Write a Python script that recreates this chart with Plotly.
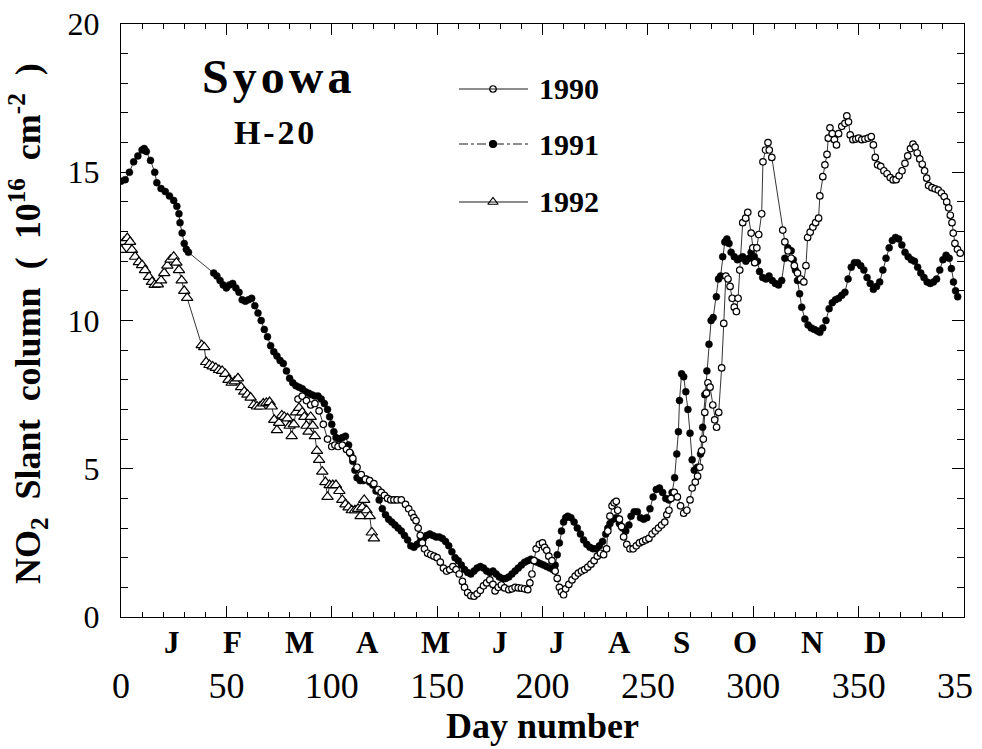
import plotly.graph_objects as go

# ---------------- data ----------------
days_1991 = [0, 2, 4, 6, 8, 10, 11, 12, 14, 16, 17, 19, 21, 23, 25, 26.5, 27.5, 28, 29, 30, 31, 32,
             44, 45.5, 47, 48.5, 50, 51.5, 53, 54.5, 56, 57.5, 59, 60.5, 62, 63.5, 65, 66.5, 68, 69.5,
             71, 72.5, 74, 75.5, 77, 78.5, 80, 81.5, 83, 84.5, 86, 87.5, 89, 90.5, 92, 93.5, 95, 96.5,
             98, 99, 100, 101, 102, 103.5, 105, 106.5, 108, 109, 110, 111, 112, 113.5, 115, 116.5, 118,
             119.5, 121, 122.5, 124, 125.5, 127, 128.5, 130, 131.5, 133, 134.5, 136, 137.5, 139, 140.5,
             142, 143.5, 145, 146.5, 148, 149.5, 151, 152.5, 154, 155.5, 157, 158.5, 160, 161.5, 163,
             164.5, 166, 167.5, 169, 170.5, 172, 173.5, 175, 176.5, 178, 179.5, 181, 182.5, 184, 185.5,
             187, 188.5, 190, 191.5, 193, 194.5, 196, 197.5, 199, 200.5, 202, 203.5, 205, 206, 207, 208,
             209, 210, 211, 212, 213.5, 215, 216.5, 218, 219.5, 221, 222.5, 224, 225.5, 227, 228.5, 230,
             231, 232, 233.5, 235, 236.5, 238, 239.5, 241, 242, 243.5, 245, 246.5, 248, 249.5, 251,
             252.5, 254, 255.5, 257, 258.5, 260, 261.5, 262.7, 263.7, 264.5, 265, 266, 267, 268, 269,
             270, 271, 272, 273.5, 275, 276, 277, 278, 279, 280, 281, 282.5, 283.5, 284.5, 285.5, 286.5,
             287.5, 288.5, 289.5, 291, 292.5, 294, 295, 296.5, 298, 299, 300.5, 302, 303, 304.5, 306,
             307.5, 309, 310.5, 312, 313.5, 315, 316.4, 318, 319, 320, 321, 322, 323, 324.5, 326, 327.5,
             329, 330.5, 331.6, 333, 334.5, 336, 337.5, 339, 340.5, 342, 343.5, 345, 346.5, 348, 349.5,
             351, 352.5, 354, 355.5, 357, 358.5, 360, 361.5, 363, 364.5, 366, 367.5, 369, 370.5, 372,
             373.5, 375, 376.5, 378, 379.5, 381, 382.5, 384, 385.5, 387, 388.5, 390, 391.5, 393, 394,
             395, 396, 397]
vals_1991 = [14.7, 14.75, 15.0, 15.35, 15.55, 15.75, 15.8, 15.7, 15.4, 15.0, 14.65, 14.45, 14.35, 14.2,
             14.05, 13.85, 13.6, 13.3, 12.95, 12.6, 12.4, 12.3,
             11.6, 11.5, 11.35, 11.2, 11.1, 11.2, 11.25, 11.1, 10.95, 10.7, 10.65, 10.7, 10.75, 10.5,
             10.25, 10.0, 9.7, 9.45, 9.15, 8.95, 8.8, 8.65, 8.55, 8.3, 8.05, 7.9, 7.8, 7.75, 7.7, 7.6,
             7.55, 7.5, 7.45, 7.45, 7.35, 7.2, 7.0, 6.75, 6.5, 6.25, 6.05, 6.0, 6.05, 6.1, 5.8, 5.5,
             5.25, 4.95, 4.7, 4.6, 4.6, 4.65, 4.55, 4.45, 4.25, 3.95, 3.65, 3.45, 3.3, 3.2, 3.1, 3.0,
             2.9, 2.75, 2.6, 2.4, 2.35, 2.45, 2.55, 2.65, 2.75, 2.8, 2.75, 2.7, 2.7, 2.65, 2.55, 2.4,
             2.2, 2.0, 1.9, 1.75, 1.6, 1.5, 1.45, 1.55, 1.65, 1.7, 1.65, 1.55, 1.5, 1.55, 1.45, 1.35,
             1.3, 1.3, 1.35, 1.45, 1.55, 1.65, 1.75, 1.85, 1.9, 1.95, 1.9, 1.85, 1.8, 1.75, 1.7, 1.65,
             1.6, 1.75, 2.1, 2.5, 2.9, 3.2, 3.35, 3.4, 3.35, 3.2, 3.0, 2.8, 2.6, 2.45, 2.35, 2.3, 2.3,
             2.4, 2.55, 2.8, 3.0, 3.15, 3.3, 3.35, 3.15, 3.0, 2.9, 3.1, 3.4, 3.55, 3.55, 3.35, 3.3,
             3.35, 3.65, 4.05, 4.3, 4.35, 4.2, 4.0, 3.95, 4.2, 4.7, 5.5, 6.25, 7.3, 8.2, 8.1, 7.6, 7.0,
             6.2, 5.3, 4.95, 5.05, 5.5, 6.4, 7.5, 8.3, 9.2, 10.0, 10.1, 10.8, 11.4, 11.5, 12.15, 12.65,
             12.75, 12.6, 12.3, 12.15, 12.05, 12.1, 12.15, 12.0, 12.1, 12.3, 12.15, 12.0, 11.65, 11.45,
             11.4, 11.5, 11.35, 11.25, 11.2, 11.35, 12.1, 12.45, 12.35, 12.05, 11.7, 11.35, 10.9, 10.45,
             10.05, 9.85, 9.75, 9.7, 9.65, 9.6, 9.75, 10.0, 10.4, 10.6, 10.7, 10.75, 10.85, 10.95, 11.4,
             11.8, 11.95, 11.95, 11.85, 11.7, 11.45, 11.25, 11.05, 11.15, 11.3, 11.7, 12.1, 12.45, 12.7,
             12.8, 12.75, 12.55, 12.3, 12.15, 12.05, 12.0, 11.8, 11.6, 11.45, 11.3, 11.25, 11.3, 11.4,
             11.7, 12.05, 12.2, 12.1, 11.75, 11.3, 11.0, 10.8]

days_1990 = [84, 86, 88, 90, 92, 94, 96, 98, 100, 101.5, 103, 105, 107, 108.5, 110, 112, 114, 116, 118,
             120, 122, 123.5, 125, 126.5, 128, 129.5, 131, 133, 135, 136.5, 138, 139, 140, 141, 142, 143,
             144, 145.5, 147, 148.5, 150, 151.5, 153, 154.5, 156, 157.5, 159, 160.5, 162, 163, 164.5,
             166, 167.5, 169, 170.5, 172, 173.5, 175, 176.5, 177.5, 179, 180.5, 182, 184, 185.5, 187,
             188.5, 190, 191.5, 193, 194, 195, 196, 197, 198.5, 200, 201, 202, 203, 204.5, 206, 207,
             208, 209, 210, 211, 212.5, 214, 215.5, 217, 218.5, 220, 221.5, 223, 224.5, 226, 227.5,
             229, 230.4, 231, 232, 233, 234, 235, 235.7, 236.5, 237.5, 238.5, 240, 241.5, 243, 244.5,
             246, 247.5, 249, 250.5, 252, 253.5, 255, 256.5, 258, 259, 260, 261, 262.5, 264, 265.5, 267,
             268.5, 270, 271, 272.5, 273.6, 274.6, 275.5, 276.3, 277, 277.8, 278.5, 279.5, 280.8, 281.7,
             282.6, 283.6, 285, 286, 287, 288, 289, 290, 291, 292, 292.8, 293.6, 295, 296.4, 297.4, 299,
             299.8, 300.7, 301.7, 302.6, 304, 304.6, 305.8, 307, 307.6, 308.8, 314, 315, 316.5, 318,
             319.5, 321, 322.5, 324, 325, 325.8, 327, 328.3, 329.6, 331, 331.6, 333, 334, 335, 335.6,
             336.4, 337.5, 338.5, 339.5, 340.5, 342, 343.5, 344.4, 345.2, 346, 347.3, 348.7, 350, 351.5,
             353, 354.5, 356, 357, 357.9, 359, 360.5, 362, 363.5, 365, 366.4, 367.8, 369.2, 370.6, 372,
             373.3, 374.6, 375.8, 376.8, 377.8, 379, 380.2, 381.3, 382.3, 383.2, 384.8, 386.3, 387.8,
             389.3, 390.6, 391.8, 392.7, 393.5, 394.3, 394.9, 395.7, 396.9, 398.2]
vals_1990 = [7.35, 7.45, 7.3, 7.15, 7.2, 6.95, 6.5, 6.0, 5.75, 5.8, 5.75, 5.8, 5.65, 5.55, 5.35, 5.05,
             4.8, 4.65, 4.6, 4.5, 4.3, 4.2, 4.1, 4.0, 3.95, 3.95, 3.95, 3.95, 3.8, 3.65, 3.5, 3.35, 3.25,
             3.0, 2.75, 2.5, 2.3, 2.15, 2.1, 2.05, 2.0, 1.85, 1.65, 1.55, 1.6, 1.7, 1.6, 1.45, 1.2, 1.0,
             0.82, 0.72, 0.7, 0.78, 0.9, 1.05, 1.15, 1.25, 1.1, 0.88, 1.0, 1.08, 0.98, 0.92, 0.95, 1.0,
             0.98, 0.97, 0.95, 0.92, 1.15, 1.45, 1.9, 2.3, 2.45, 2.5, 2.35, 2.25, 2.05, 1.9, 1.55, 1.3,
             1.0, 0.85, 0.75, 0.95, 1.1, 1.25, 1.38, 1.48, 1.55, 1.6, 1.68, 1.78, 1.9, 2.05, 2.15, 2.1,
             2.3, 2.9, 3.4, 3.75, 3.85, 3.9, 3.6, 3.3, 3.05, 2.7, 2.45, 2.3, 2.3, 2.4, 2.5, 2.55, 2.6,
             2.65, 2.8, 2.9, 3.0, 3.1, 3.2, 3.45, 3.6, 4.0, 4.2, 4.05, 3.75, 3.5, 3.6, 3.95, 4.35, 4.55,
             4.75, 5.05, 5.6, 6.0, 6.9, 7.55, 7.9, 7.75, 7.15, 6.65, 6.4, 6.9, 8.4, 9.9, 11.5, 11.4,
             11.15, 10.75, 10.45, 10.3, 10.75, 11.7, 13.3, 13.45, 13.65, 12.95, 12.45, 11.95, 12.45,
             12.9, 13.6, 15.35, 15.75, 16.0, 15.75, 15.5, 13.05, 12.65, 12.35, 12.1, 11.85, 11.6, 11.4,
             11.3, 11.85, 12.8, 12.98, 13.15, 13.3, 13.45, 14.2, 14.85, 15.25, 15.6, 16.15, 16.5, 16.3,
             16.1, 15.92, 16.3, 16.55, 16.65, 16.9, 16.7, 16.26, 16.1, 16.12, 16.15, 16.1, 16.12, 16.15,
             16.2, 15.92, 15.5, 15.25, 15.2, 15.05, 14.95, 14.82, 14.74, 14.75, 14.88, 15.05, 15.3,
             15.55, 15.8, 15.95, 15.85, 15.65, 15.45, 15.27, 15.05, 14.8, 14.55, 14.48, 14.44, 14.4,
             14.3, 14.18, 14.0, 13.8, 13.55, 13.3, 12.95, 12.6, 12.4, 12.27]

days_1992 = [0, 1.4, 3, 4.3, 5.2, 6.7, 8.5, 10, 11.4, 13.3, 14.7, 16, 17.5, 19, 20.5, 22, 23.5, 25, 26.3,
             27.5, 28.8, 30, 31.4, 38.3, 39.5, 40.4, 42, 43.5, 45, 46.5, 48, 49.5, 51, 52.5, 54, 55.5, 57,
             58.5, 60, 61.5, 63, 64.5, 66, 67.5, 69, 70.5, 71.5, 72.7, 74, 75, 76.3, 77.5, 79, 80, 81, 82,
             83, 84.5, 86, 87, 88, 89, 90, 91, 92, 93, 94, 95.5, 97, 98, 99, 100.5, 102, 103.6, 105,
             106.5, 108, 109.5, 111, 112.5, 113.7, 114.5, 115.4, 116.5, 118, 119, 120]
vals_1992 = [12.38, 12.65, 12.78, 12.65, 12.38, 12.15, 11.97, 11.87, 11.7, 11.47, 11.3, 11.2, 11.22, 11.35,
             11.6, 11.85, 12.05, 12.15, 11.95, 11.7, 11.35, 11.0, 10.76, 9.17, 9.1, 8.6, 8.5, 8.45, 8.4,
             8.33, 8.3, 8.2, 8.0, 7.9, 7.95, 8.05, 7.75, 7.6, 7.5, 7.4, 7.15, 7.1, 7.1, 7.2, 7.22, 7.25,
             7.1, 6.65, 6.3, 6.55, 6.8, 6.75, 6.7, 6.45, 6.1, 6.5, 6.9, 7.05, 6.9, 6.75, 6.45, 6.25, 6.75,
             6.45, 6.1, 5.6, 5.3, 4.9, 4.55, 4.05, 4.45, 4.45, 4.45, 4.25, 3.95, 3.8, 3.7, 3.6, 3.6, 3.65,
             3.4, 3.7, 3.95, 3.6, 3.4, 2.85, 2.65]

x_tickvals = [0, 50, 100, 150, 200, 250, 300, 350, 400]
x_ticktext = ["0", "50", "100", "150", "200", "250", "300", "350", "35\u2007"]
y_tickvals = [0, 5, 10, 15, 20]
month_letters = ["J", "F", "M", "A", "M", "J", "J", "A", "S", "O", "N", "D"]
month_days = [24, 53, 84.5, 117, 149, 180, 207, 236.5, 266, 296, 328, 358]
years = ["1990", "1991", "1992"]

# ---------------- figure ----------------
SERIF = "Liberation Serif, Times New Roman, serif"
W, H = 982, 749
L, R, T, B = 121, 18, 24, 132
PW, PH = W - L - R, H - T - B


def px2paper_x(px):
    return (px - L) / PW


def px2paper_y(py):
    return (H - B - py) / PH


fig = go.Figure()

line_style = dict(color="black", width=0.8)
fig.add_trace(go.Scatter(x=days_1991, y=vals_1991, mode="lines+markers", line=line_style,
                         marker=dict(symbol="circle", size=7, color="black",
                                     line=dict(color="black", width=0.5)),
                         name="1991", showlegend=False))
fig.add_trace(go.Scatter(x=days_1990, y=vals_1990, mode="lines+markers", line=line_style,
                         marker=dict(symbol="circle", size=6.5, color="white",
                                     line=dict(color="black", width=1.2)),
                         name="1990", showlegend=False))
fig.add_trace(go.Scatter(x=days_1992, y=vals_1992, mode="lines+markers", line=line_style,
                         marker=dict(symbol="triangle-up", size=10, color="white",
                                     line=dict(color="black", width=1.2)),
                         name="1992", showlegend=False))

# manual legend (samples drawn on a hidden overlay axis spanning the paper)
legend_rows_py = [89, 144, 202]
legend_symbols = [("circle", "white", 6.5), ("circle", "black", 7), ("triangle-up", "white", 9)]
legend_dash = ["solid", "dashdot", "solid"]
lx0, lxm, lx1, ltx = px2paper_x(459), px2paper_x(493), px2paper_x(528), px2paper_x(537)
for yr, py, (sym, fc, sz), dsh in zip(years, legend_rows_py, legend_symbols, legend_dash):
    yp = px2paper_y(py)
    fig.add_shape(type="line", xref="paper", yref="paper", x0=lx0, x1=lx1, y0=yp, y1=yp,
                  line=dict(color="black", width=0.9, dash=dsh))
    fig.add_trace(go.Scatter(x=[lxm], y=[yp], mode="markers", xaxis="x2", yaxis="y2",
                             marker=dict(symbol=sym, size=sz, color=fc,
                                         line=dict(color="black", width=1.2)),
                             showlegend=False, hoverinfo="skip"))
    fig.add_annotation(x=ltx, y=yp, xref="paper", yref="paper", text=f"<b>{yr}</b>",
                       showarrow=False, xanchor="left", yanchor="middle",
                       font=dict(family=SERIF, size=30, color="black"))

# month letters under the axis
for m, d in zip(month_letters, month_days):
    fig.add_annotation(x=d, y=px2paper_y(643), xref="x", yref="paper", text=f"<b>{m}</b>",
                       showarrow=False, xanchor="center", yanchor="middle",
                       font=dict(family=SERIF, size=31, color="black"))

# station labels
fig.add_annotation(x=px2paper_x(276), y=px2paper_y(76), xref="paper", yref="paper",
                   text="<b>" + "\u200a".join("Syowa") + "</b>", showarrow=False,
                   xanchor="center", yanchor="middle",
                   font=dict(family=SERIF, size=48, color="black"))
fig.add_annotation(x=px2paper_x(274), y=px2paper_y(132), xref="paper", yref="paper",
                   text="<b>" + "\u200a".join("H-20") + "</b>", showarrow=False,
                   xanchor="center", yanchor="middle",
                   font=dict(family=SERIF, size=34, color="black"))

# y title
nb = "\u00a0"
ytitle = ("<b>NO<sub>2</sub>" + nb + " Slant" + nb + " column" + nb + " (" + nb + nb +
          "10<sup>16</sup>" + nb + " cm<sup>-2</sup>" + nb + " )</b>")
fig.add_annotation(x=px2paper_x(28), y=px2paper_y(324), xref="paper", yref="paper", textangle=-90,
                   text=ytitle, showarrow=False, xanchor="center", yanchor="middle",
                   font=dict(family=SERIF, size=36, color="black"))

fig.update_layout(
    width=W, height=H,
    margin=dict(l=L, r=R, t=T, b=B, autoexpand=False),
    paper_bgcolor="white", plot_bgcolor="white",
    showlegend=False,
    xaxis=dict(range=[0, 400], tickvals=x_tickvals, ticktext=x_ticktext,
               showgrid=False, zeroline=False, showline=True, linecolor="black", linewidth=1.3,
               mirror="ticks", ticks="inside", ticklen=11, tickwidth=1.2, tickcolor="black",
               minor=dict(dtick=10, tick0=0, ticks="inside", ticklen=5, tickwidth=1, tickcolor="black",
                          showgrid=False),
               tickfont=dict(family=SERIF, size=36, color="black"),
               ticklabelstandoff=37, ticklabeloverflow="allow",
               title=dict(text="<b>Day number</b>", font=dict(family=SERIF, size=36, color="black"),
                          standoff=2)),
    yaxis=dict(range=[0, 20], tickvals=y_tickvals,
               showgrid=False, zeroline=False, showline=True, linecolor="black", linewidth=1.3,
               mirror="ticks", ticks="inside", ticklen=12, tickwidth=1.2, tickcolor="black",
               minor=dict(dtick=1, tick0=0, ticks="inside", ticklen=7, tickwidth=1, tickcolor="black",
                          showgrid=False),
               tickfont=dict(family=SERIF, size=32, color="black"),
               ticklabelstandoff=14, ticklabeloverflow="allow"),
    xaxis2=dict(range=[0, 1], overlaying="x", visible=False, fixedrange=True),
    yaxis2=dict(range=[0, 1], overlaying="y", visible=False, fixedrange=True),
)

fig.write_html("out.html", config={"displayModeBar": False},
               post_script="document.body.style.margin='0px';document.body.style.overflow='hidden';")
